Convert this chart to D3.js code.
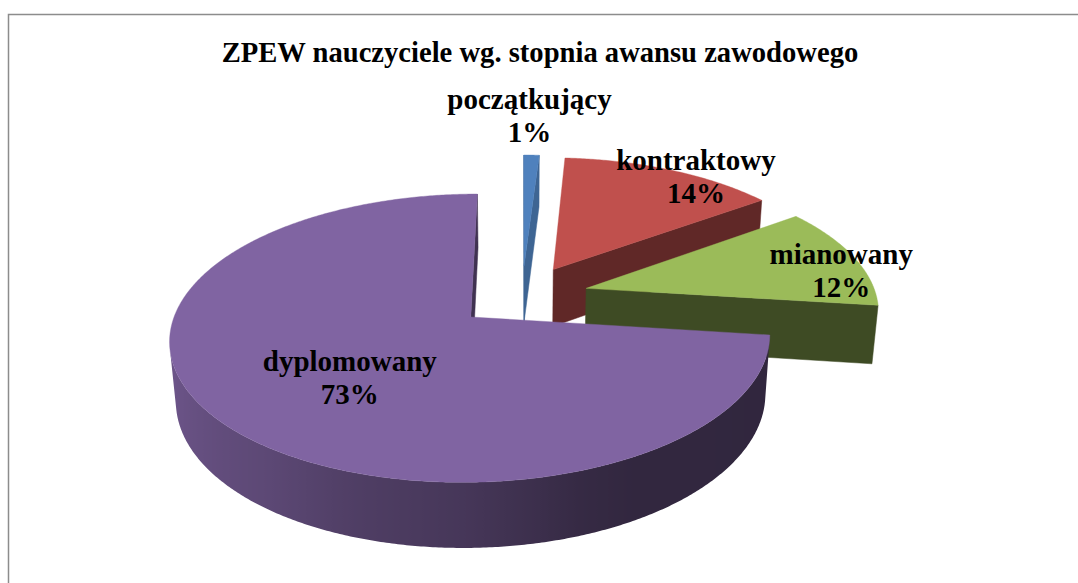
<!DOCTYPE html>
<html>
<head>
<meta charset="utf-8">
<script src="https://cdn.jsdelivr.net/npm/d3@7"></script>
<style>
  body { margin: 0; background: #fff; }
</style>
</head>
<body>
<div id="chart"></div>
<script>
// chart data
var categories = ["początkujący", "kontraktowy", "mianowany", "dyplomowany"];
var shares = [1, 14, 12, 73];
var pctLabels = ["1%", "14%", "12%", "73%"];
var colors = ["#4F81BD", "#C0504D", "#9BBB59", "#8064A2"];
var chartTitle = "ZPEW nauczyciele wg. stopnia awansu zawodowego";

var serifFont = "'Liberation Serif', 'DejaVu Serif', 'Times New Roman', Times, serif";

// SVG wrapper dimensions
var svgWidth = 1078;
var svgHeight = 583;

var svg = d3.select("#chart")
  .append("svg")
  .attr("width", svgWidth)
  .attr("height", svgHeight);

var defs = svg.append("defs");

// chart frame (runs off the right and bottom of the picture)
svg.append("rect")
  .attr("x", 8.5)
  .attr("y", 14.5)
  .attr("width", 1100)
  .attr("height", 620)
  .attr("fill", "none")
  .attr("stroke", "#8c8c8c")
  .attr("stroke-width", 1.5);

svg.append("text")
  .attr("x", 540)
  .attr("y", 62)
  .attr("text-anchor", "middle")
  .style("font-family", serifFont)
  .style("font-weight", "bold")
  .style("font-size", "28.6px")
  .text(chartTitle);

// simple perspective camera for the 3D pie
var view = { cx: 522, cy: 296, f: 1785, dist: 6.15, tilt: 27.7 * Math.PI / 180 };
var sinT = Math.sin(view.tilt), cosT = Math.cos(view.tilt);
var explode = 0.23;     // explosion of every slice, in radii
var thickness = 0.23;   // pie height, in radii
var cam = [0, view.dist * sinT, -view.dist * cosT];

function project(X, Y, Z) {
  var u = Z * sinT + Y * cosT;
  var d = view.dist + Z * cosT - Y * sinT;
  return [view.cx + view.f * X / d, view.cy - view.f * u / d];
}

function facesCamera(P, n) {
  return (cam[0] - P[0]) * n[0] + (cam[1] - P[1]) * n[1] + (cam[2] - P[2]) * n[2] > 0;
}

function shadeColor(c, k) {
  var col = d3.rgb(c);
  return d3.rgb(col.r * k, col.g * k, col.b * k).formatHex();
}

// light on the outer wall by angle of its normal (degrees)
var wallShade = d3.scaleLinear()
  .domain([90, 150, 160, 180, 198, 215, 250, 270])
  .range([0.38, 0.39, 0.42, 0.55, 0.62, 0.72, 0.84, 0.86])
  .clamp(true);
var cutShade = [0.78, 0.5, 0.4, 0.5];

var line = d3.line();

var arcs = d3.pie().sort(null).value(d => d)(shares);
arcs.forEach(function(p, i) {
  p.i = i;
  p.mid = (p.startAngle + p.endAngle) / 2;
  p.ox = explode * Math.sin(p.mid);
  p.oz = explode * Math.cos(p.mid);
});

function rim(p, a, y) {
  return project(p.ox + Math.sin(a), y, p.oz + Math.cos(a));
}

// back slices first
var order = arcs.slice().sort((a, b) => b.oz - a.oz);

var pieGroup = svg.append("g");

order.forEach(function(p) {
  var g = pieGroup.append("g");
  var base = colors[p.i];
  var top = project(p.ox, 0, p.oz);
  var bottom = project(p.ox, -thickness, p.oz);

  // radial cut faces
  [[p.startAngle, [-Math.cos(p.startAngle), 0, Math.sin(p.startAngle)]],
   [p.endAngle, [Math.cos(p.endAngle), 0, -Math.sin(p.endAngle)]]].forEach(function(e) {
    if (!facesCamera([p.ox, 0, p.oz], e[1])) return;
    var pts = [top, rim(p, e[0], 0), rim(p, e[0], -thickness), bottom];
    g.append("path")
      .attr("d", line(pts) + "Z")
      .attr("fill", shadeColor(base, cutShade[p.i]))
      .attr("stroke", shadeColor(base, cutShade[p.i]))
      .attr("stroke-width", 0.5);
  });

  // outer wall: visible angles only, one path with a gradient along x
  var steps = Math.max(2, Math.ceil((p.endAngle - p.startAngle) / (Math.PI / 360)));
  var da = (p.endAngle - p.startAngle) / steps;
  var vis = [];
  for (var s = 0; s <= steps; s++) {
    var a = p.startAngle + s * da;
    var n = [Math.sin(a), 0, Math.cos(a)];
    var P = [p.ox + n[0], -thickness / 2, p.oz + n[2]];
    if (facesCamera(P, n)) vis.push(a);
  }
  if (vis.length > 1) {
    var upper = vis.map(a => rim(p, a, 0));
    var lower = vis.map(a => rim(p, a, -thickness)).reverse();
    var xs = upper.map(d => d[0]);
    var x0 = d3.min(xs), x1 = d3.max(xs);
    var gid = "wall" + p.i;
    var grad = defs.append("linearGradient")
      .attr("id", gid)
      .attr("gradientUnits", "userSpaceOnUse")
      .attr("x1", x0).attr("x2", x1).attr("y1", 0).attr("y2", 0);
    var stops = vis.map((a, k) => ({ off: (xs[k] - x0) / Math.max(1, x1 - x0), a: a }))
      .sort((u, v) => u.off - v.off);
    stops.forEach(function(st) {
      grad.append("stop")
        .attr("offset", st.off)
        .attr("stop-color", shadeColor(base, wallShade((st.a * 180 / Math.PI) % 360)));
    });
    g.append("path")
      .attr("d", line(upper.concat(lower)) + "Z")
      .attr("fill", "url(#" + gid + ")");
  }

  // top face
  var pts = [top];
  for (var s = 0; s <= steps; s++) pts.push(rim(p, p.startAngle + s * da, 0));
  g.append("path")
    .attr("d", line(pts) + "Z")
    .attr("fill", base)
    .attr("stroke", base)
    .attr("stroke-width", 0.4);
});

// data labels
var labelPos = { r: [1, 1, 1, 0.6], dx: [-2, 25, -12, 24], dy: [-46, 0, 8, -5] };
var labelGroup = svg.append("g");
arcs.forEach(function(p) {
  var r = labelPos.r[p.i];
  var pt = project(p.ox + r * Math.sin(p.mid), 0, p.oz + r * Math.cos(p.mid));
  var x = pt[0] + labelPos.dx[p.i], y = pt[1] + labelPos.dy[p.i];
  var t = labelGroup.append("text")
    .attr("text-anchor", "middle")
    .style("font-family", serifFont)
    .style("font-weight", "bold")
    .style("font-size", "29px");
  t.append("tspan").attr("x", x).attr("y", y).text(categories[p.i]);
  t.append("tspan").attr("x", x).attr("y", y + 33).text(pctLabels[p.i]);
});
</script>
</body>
</html>
